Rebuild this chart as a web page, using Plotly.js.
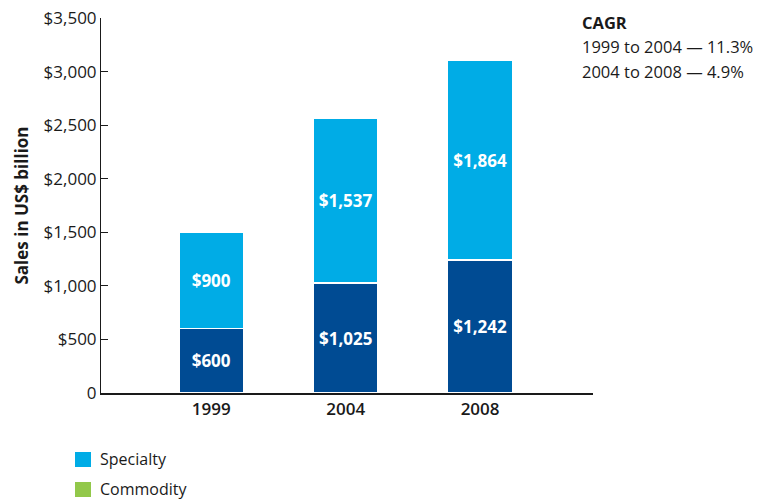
<!DOCTYPE html>
<html>
<head>
<meta charset="utf-8">
<script src="https://cdn.plot.ly/plotly-3.0.1.min.js"></script>
<style>html,body{margin:0;padding:0;background:#fff;}#chart{width:765px;height:500px;}</style>
</head>
<body>
<div id="chart"></div>
<script>
const years = ['1999', '2004', '2008'];
const commodity = [600, 1025, 1242];
const specialty = [900, 1537, 1864];
const yTickVals = [0, 500, 1000, 1500, 2000, 2500, 3000, 3500];
const yTickText = ['0', '$500', '$1,000', '$1,500', '$2,000', '$2,500', '$3,000', '$3,500'];
const cagrTitle = 'CAGR';
const cagrLines = ['1999 to 2004 — 11.3%', '2004 to 2008 — 4.9%'];
const legendLabels = ['Specialty', 'Commodity'];

const FONT = 'Open Sans, Noto Sans, sans-serif';
const DARK = '#004B93';
const LIGHT = '#00ACE6';
const GREEN = '#92C84A';
const INK = '#1a1a1a';
const legendColors = [LIGHT, GREEN];

const barCommon = {
  type: 'bar', x: years, width: 0.483, showlegend: false,
  texttemplate: '$%{y:,}', textposition: 'inside', insidetextanchor: 'middle',
  textfont: {family: FONT, size: 17, color: '#ffffff', weight: 700},
  hoverinfo: 'none'
};

const traces = [
  Object.assign({}, barCommon, {y: commodity, name: 'Commodity', marker: {color: DARK, line: {color: '#ffffff', width: 1.5}}}),
  Object.assign({}, barCommon, {y: specialty, name: 'Specialty', marker: {color: LIGHT, line: {color: '#ffffff', width: 1.5}}})
];

const shapes = [];
const annotations = [];
legendLabels.forEach((lab, i) => {
  const top = 59 + i * 30;
  shapes.push({type: 'rect', xref: 'paper', yref: 'paper', xsizemode: 'pixel', ysizemode: 'pixel',
    xanchor: 0, yanchor: 0, x0: -26, x1: -10, y0: -(top + 15), y1: -top,
    fillcolor: legendColors[i], line: {width: 0}});
  annotations.push({xref: 'paper', yref: 'paper', x: 0, y: 0, xanchor: 'left', yanchor: 'middle',
    xshift: -3, yshift: -(top + 7), text: lab, showarrow: false,
    font: {family: FONT, size: 16, color: INK}});
});
[cagrTitle].concat(cagrLines).forEach((t, i) => {
  annotations.push({xref: 'paper', yref: 'paper', x: 0.9736, y: 1, xanchor: 'left', yanchor: 'middle',
    yshift: -4 - i * 24.5, text: i === 0 ? '<b>' + t + '</b>' : t, showarrow: false,
    font: {family: FONT, size: 16.5, color: INK}});
});

const layout = {
  width: 765, height: 500,
  margin: {l: 101, r: 172, t: 18, b: 107, autoexpand: false},
  barmode: 'stack',
  paper_bgcolor: '#ffffff', plot_bgcolor: '#ffffff',
  font: {family: FONT, size: 17, color: INK},
  showlegend: false,
  xaxis: {
    type: 'category', categoryorder: 'array', categoryarray: years,
    range: [-0.82, 2.84],
    showline: true, linecolor: INK, linewidth: 1.5,
    ticks: '', showgrid: false, zeroline: false,
    tickfont: {family: FONT, size: 17, color: INK, weight: 600}
  },
  yaxis: {
    range: [0, 3500], tickvals: yTickVals, ticktext: yTickText,
    showline: true, linecolor: INK, linewidth: 1,
    ticks: 'inside', ticklen: 7, tickcolor: INK,
    showgrid: false, zeroline: false,
    tickfont: {family: FONT, size: 17, color: INK},
    title: {text: 'Sales in US$ billion', font: {family: FONT, size: 17, color: INK, weight: 700}, standoff: 10}
  },
  shapes: shapes,
  annotations: annotations
};

Plotly.newPlot('chart', traces, layout, {displayModeBar: false, staticPlot: true});
</script>
</body>
</html>
